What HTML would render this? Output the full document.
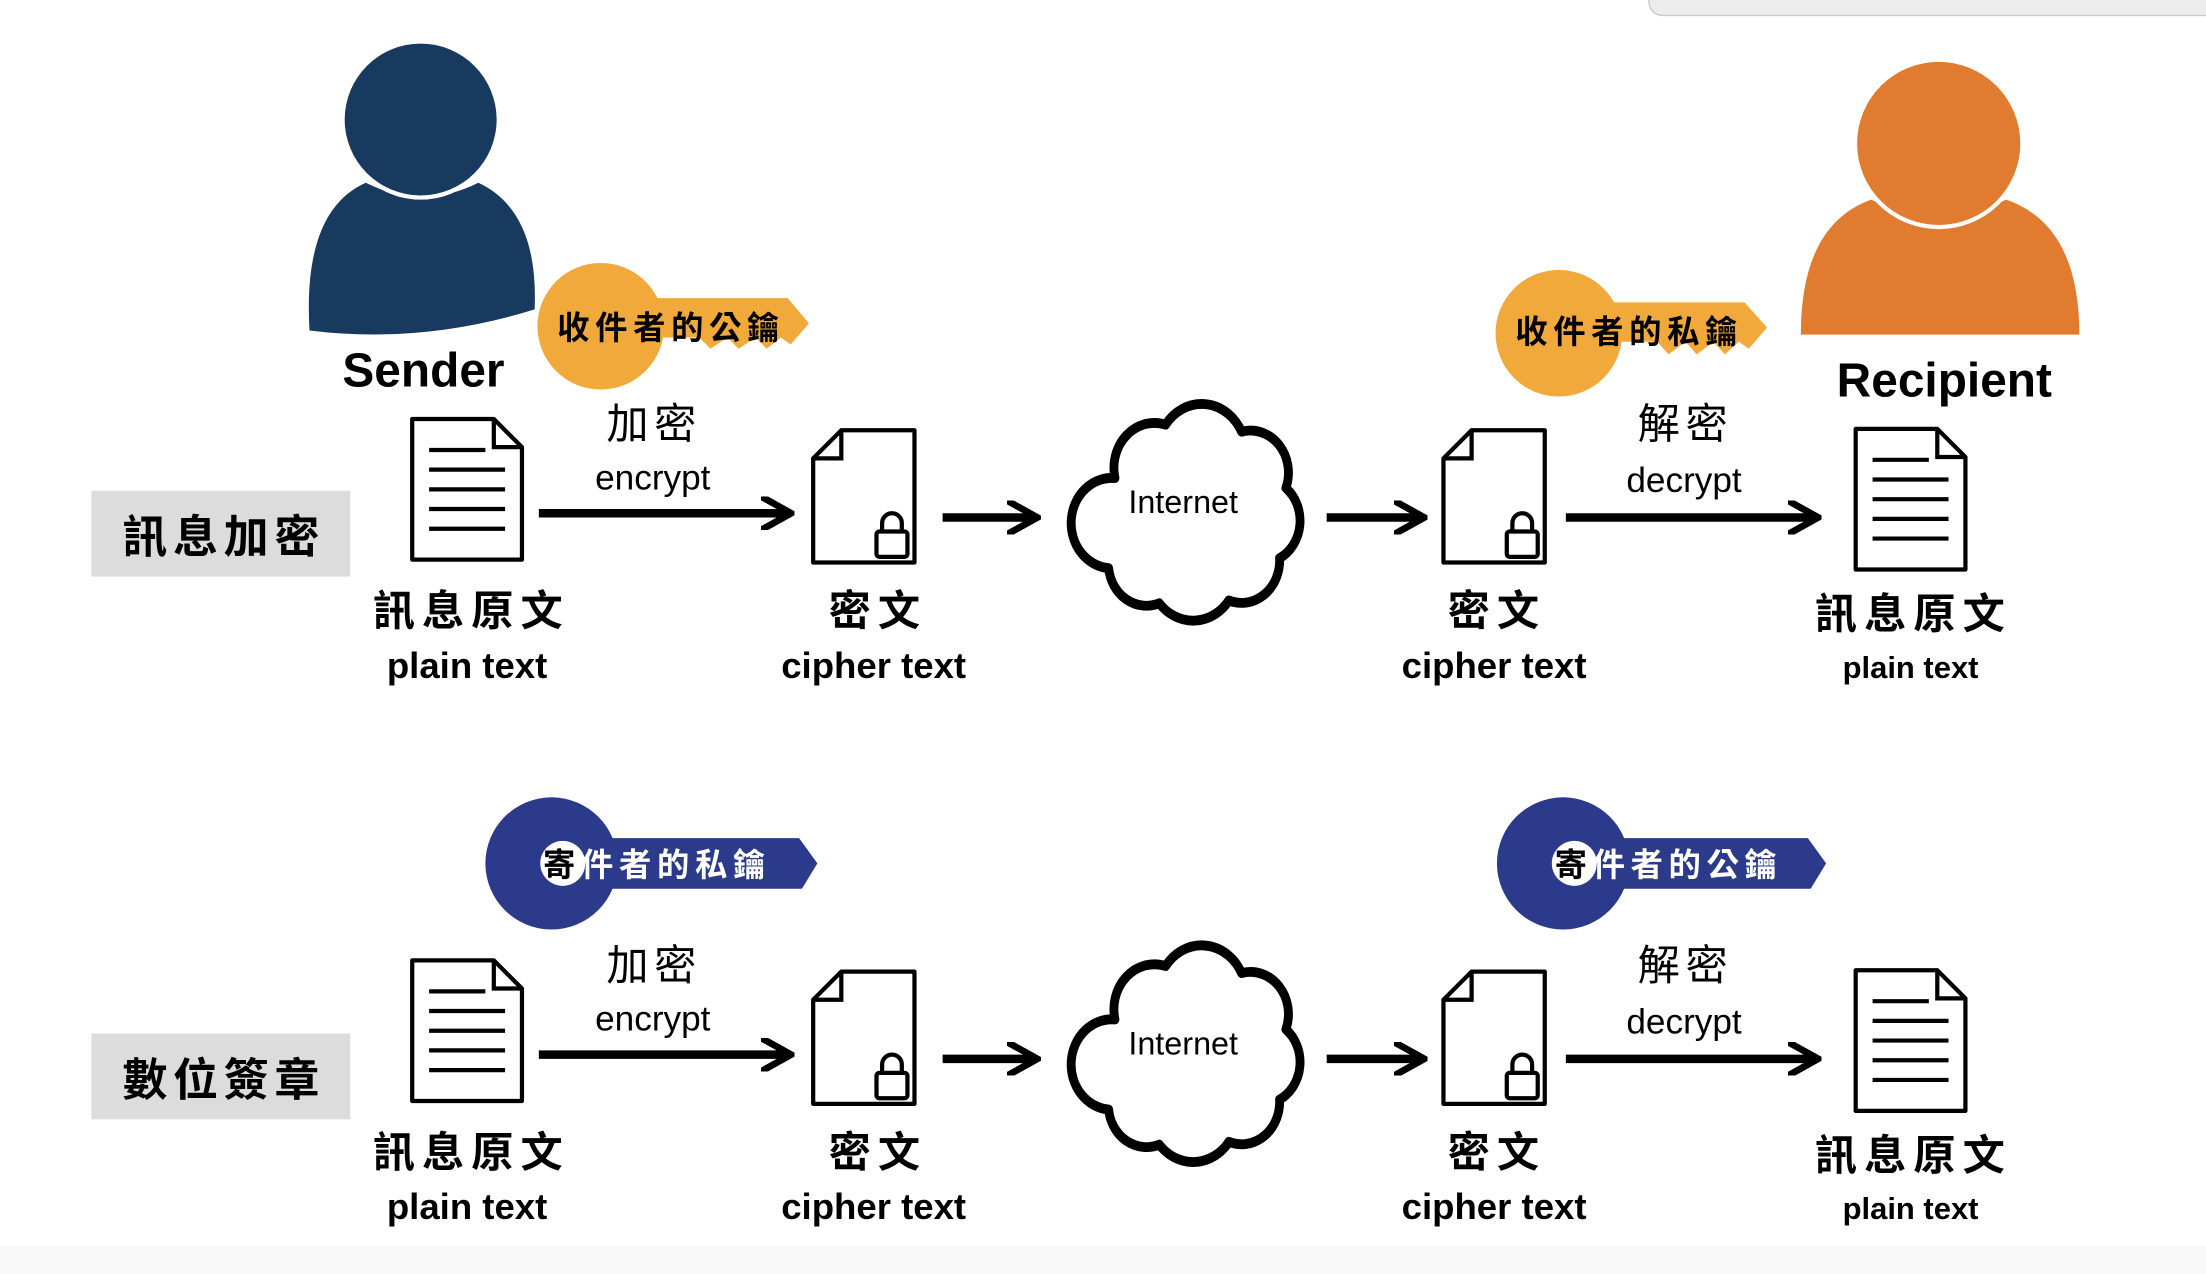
<!DOCTYPE html>
<html><head><meta charset="utf-8"><style>
html,body{margin:0;padding:0;background:#fff;}
svg{display:block;}
text{font-family:"Liberation Sans","Noto Sans CJK TC",sans-serif;}
.cjk{font-family:"Noto Serif CJK SC","Noto Sans CJK TC",serif;}
</style></head><body>
<svg width="2206" height="1274" viewBox="0 0 1568 906" preserveAspectRatio="none" xmlns="http://www.w3.org/2000/svg">
<defs>
<g id="doc">
<path d="M0,0 H58 L78,20 V100 H0 Z" fill="#fff" stroke="#000" stroke-width="3" stroke-linejoin="round"/>
<path d="M58,0 V20 H78" fill="none" stroke="#000" stroke-width="3"/>
<g stroke="#000" stroke-width="3">
<line x1="12" y1="22" x2="52" y2="22"/><line x1="12" y1="36" x2="66" y2="36"/>
<line x1="12" y1="50" x2="66" y2="50"/><line x1="12" y1="64" x2="66" y2="64"/>
<line x1="12" y1="78" x2="66" y2="78"/>
</g></g>
<g id="ldoc">
<path d="M20,0 H72 V94 H0 V20 Z" fill="#fff" stroke="#000" stroke-width="3" stroke-linejoin="round"/>
<path d="M20,0 V20 H0" fill="none" stroke="#000" stroke-width="3"/>
<rect x="45" y="72" width="22" height="18" fill="#fff" stroke="#000" stroke-width="3" rx="2"/>
<path d="M49,72 V66 a7,7 0 0 1 14,0 V72" fill="none" stroke="#000" stroke-width="3"/>
</g>
<g id="cloud">
<path d="M-55,-20 a32,32 0 0 1 40,-38 a35,35 0 0 1 60,5 a30,30 0 0 1 35,40 a30,30 0 0 1 -5,50 a30,30 0 0 1 -40,30 a35,35 0 0 1 -55,2 a30,30 0 0 1 -40,-25 a28,28 0 0 1 5,-64 Z" fill="#fff" stroke="#000" stroke-width="7" stroke-linejoin="round" transform="scale(0.9,1)"/>
</g>
<marker id="ah" viewBox="0 0 10 10" refX="8" refY="5" markerWidth="4" markerHeight="4" orient="auto"><path d="M0,0 L9,5 L0,10" fill="none" stroke="#000" stroke-width="2"/></marker>
</defs>
<rect x="1172" y="-20" width="420" height="31" rx="10" fill="#ececec" stroke="#c8c8c8"/>
<rect x="0" y="886" width="1568" height="20" fill="#f8f8f8"/>
<!-- Sender -->
<path d="M220,235 Q215,150 260,130 Q300,150 340,130 Q383,150 380,220 Q300,245 220,235 Z" fill="#173a5e"/>
<circle cx="299" cy="85" r="57" fill="#fff"/><circle cx="299" cy="85" r="54" fill="#173a5e"/>
<text x="301" y="275" font-size="34" font-weight="bold" text-anchor="middle">Sender</text>
<!-- Recipient -->
<path d="M1280,238 Q1280,160 1330,142 Q1378,165 1426,142 Q1478,160 1478,238 Z" fill="#e07b30"/>
<circle cx="1378" cy="102" r="61" fill="#fff"/><circle cx="1378" cy="102" r="58" fill="#e07b30"/>
<text x="1382" y="282" font-size="34" font-weight="bold" text-anchor="middle">Recipient</text>
<!-- keys -->
<g fill="#f2a93b">
<circle cx="427" cy="232" r="45"/><path d="M455,212 H560 L575,230 L562,245 L555,240 L545,248 L537,240 L525,248 L517,240 L505,248 L497,240 H455 Z"/>
<circle cx="1108" cy="237" r="45"/><path d="M1136,215 H1240 L1256,233 L1243,248 L1236,243 L1226,252 L1218,243 L1206,252 L1198,243 L1186,252 L1178,243 H1136 Z"/>
</g>
<g fill="#2b3a8a">
<circle cx="392" cy="614" r="47"/><path d="M420,596 H568 L581,614 L570,632 H420 Z"/>
<circle cx="1111" cy="614" r="47"/><path d="M1140,596 H1285 L1298,614 L1287,632 H1140 Z"/>
</g>
<circle cx="400" cy="614" r="16" fill="#fff"/><circle cx="1119" cy="614" r="16" fill="#fff"/>
<g class="cjk" font-size="23" font-weight="bold" letter-spacing="4">
<text x="396" y="241">收件者的公鑰</text>
<text x="1077" y="244">收件者的私鑰</text>
<text x="386" y="623" fill="#000">寄</text><text x="413" y="623" fill="#fff">件者的私鑰</text>
<text x="1105" y="623" fill="#000">寄</text><text x="1132" y="623" fill="#fff">件者的公鑰</text>
</g>
<rect x="65" y="349" width="184" height="61" fill="#dcdcdc"/>
<rect x="65" y="735" width="184" height="61" fill="#dcdcdc"/>
<g class="cjk" font-size="32" font-weight="bold" text-anchor="middle" letter-spacing="4">
<text x="159" y="393">訊息加密</text><text x="159" y="779">數位簽章</text>
</g>
<g id="row">
<use href="#doc" x="293" y="298"/>
<use href="#ldoc" x="578" y="306"/>
<use href="#ldoc" x="1026" y="306"/>
<use href="#doc" x="1319" y="305"/>
<use href="#cloud" x="842" y="360"/>
<text x="841" y="365" font-size="23" text-anchor="middle">Internet</text>
<g stroke="#000" stroke-width="6" marker-end="url(#ah)">
<line x1="383" y1="365" x2="560" y2="365"/>
<line x1="670" y1="368" x2="735" y2="368"/>
<line x1="943" y1="368" x2="1010" y2="368"/>
<line x1="1113" y1="368" x2="1290" y2="368"/>
</g>
<g class="cjk" font-size="30" text-anchor="middle" letter-spacing="4">
<text x="465" y="312">加密</text><text x="1198" y="312">解密</text>
</g>
<g font-size="25" text-anchor="middle">
<text x="464" y="348">encrypt</text><text x="1197" y="350">decrypt</text>
</g>
<g class="cjk" font-size="30" font-weight="bold" text-anchor="middle" letter-spacing="5">
<text x="335" y="445">訊息原文</text><text x="624" y="445">密文</text>
<text x="1064" y="445">密文</text><text x="1360" y="447">訊息原文</text>
</g>
<g font-size="26" font-weight="bold" text-anchor="middle">
<text x="332" y="482">plain text</text><text x="621" y="482">cipher text</text>
<text x="1062" y="482">cipher text</text><text x="1358" y="482" font-size="22">plain text</text>
</g>
</g>
<use href="#row" y="385"/>
</svg>
</body></html>
